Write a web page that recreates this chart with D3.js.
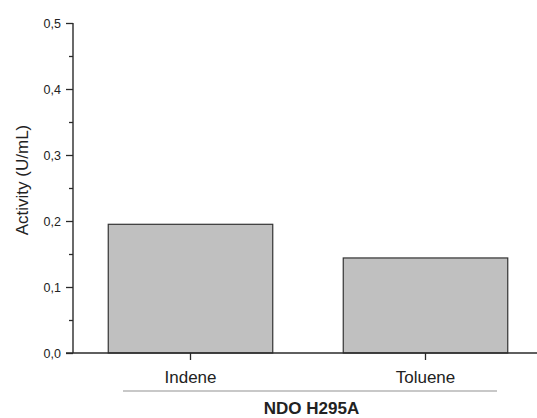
<!DOCTYPE html>
<html>
<head>
<meta charset="utf-8">
<script src="https://cdn.jsdelivr.net/npm/d3@7"></script>
<style>
  body { margin: 0; background: #fff; }
  text { font-family: "Liberation Sans", Arial, sans-serif; fill: #222; }
</style>
</head>
<body>
<div id="chart"></div>
<script>
// data
const categories = ["Indene", "Toluene"];
const activity = [0.195, 0.144];
const yTicks = [0, 0.1, 0.2, 0.3, 0.4, 0.5];
const yMinorTicks = [0.05, 0.15, 0.25, 0.35, 0.45];
const groupLabel = "NDO H295A";
const yLabel = "Activity (U/mL)";

const width = 537,
  height = 418;

const svg = d3.select("#chart")
  .append("svg")
  .attr("width", width)
  .attr("height", height);

const y = d3.scaleLinear()
  .domain([0, 0.5])
  .range([353, 23]);

const x = d3.scaleBand()
  .domain(categories)
  .range([73, 543])
  .paddingInner(0.3)
  .paddingOuter(0.15);

const axisColor = "#2a2a2a";

// bars
svg.append("g")
  .selectAll("rect")
  .data(categories)
  .join("rect")
  .attr("x", d => x(d))
  .attr("y", (d, i) => y(activity[i]))
  .attr("width", x.bandwidth())
  .attr("height", (d, i) => y(0) - y(activity[i]))
  .attr("fill", "#c0c0c0")
  .attr("stroke", "#333")
  .attr("stroke-width", 1.2);

// y axis, major ticks with comma decimals
const yAxis = svg.append("g")
  .attr("transform", "translate(73,0)")
  .call(d3.axisLeft(y)
    .tickValues(yTicks)
    .tickSize(7)
    .tickPadding(5)
    .tickFormat(d => d3.format(".1f")(d).replace(".", ",")));
yAxis.select(".domain").remove();
yAxis.selectAll("line").attr("stroke", axisColor).attr("stroke-width", 1.3);
yAxis.selectAll("text")
  .style("font-size", "12.5px")
  .style("font-family", "'Liberation Sans', Arial, sans-serif")
  .attr("fill", "#222");

// minor ticks
const yMinor = svg.append("g")
  .attr("transform", "translate(73,0)")
  .call(d3.axisLeft(y).tickValues(yMinorTicks).tickSize(4).tickFormat(""));
yMinor.select(".domain").remove();
yMinor.selectAll("line").attr("stroke", axisColor).attr("stroke-width", 1.3);

// axis lines
svg.append("line")
  .attr("x1", 73).attr("x2", 73)
  .attr("y1", y(0.5)).attr("y2", y(0))
  .attr("stroke", axisColor).attr("stroke-width", 1.4);

// x axis
const xAxis = svg.append("g")
  .attr("transform", `translate(0,${y(0)})`)
  .call(d3.axisBottom(x).tickSize(7).tickPadding(11));
xAxis.select(".domain").remove();
xAxis.selectAll("line").attr("stroke", axisColor).attr("stroke-width", 1.3);
xAxis.selectAll("text")
  .style("font-size", "17px")
  .style("font-family", "'Liberation Sans', Arial, sans-serif")
  .attr("fill", "#222");

svg.append("line")
  .attr("x1", 66).attr("x2", width)
  .attr("y1", y(0)).attr("y2", y(0))
  .attr("stroke", axisColor).attr("stroke-width", 1.4);

// group bracket line and label
svg.append("line")
  .attr("x1", 123).attr("x2", 497)
  .attr("y1", 391).attr("y2", 391)
  .attr("stroke", "#c8c8c8").attr("stroke-width", 2);

svg.append("text")
  .attr("x", 311.5)
  .attr("y", 414)
  .attr("text-anchor", "middle")
  .style("font-size", "17px")
  .style("font-weight", "bold")
  .text(groupLabel);

// y label
svg.append("text")
  .attr("transform", "translate(28,180) rotate(-90)")
  .attr("text-anchor", "middle")
  .style("font-size", "17px")
  .text(yLabel);
</script>
</body>
</html>
